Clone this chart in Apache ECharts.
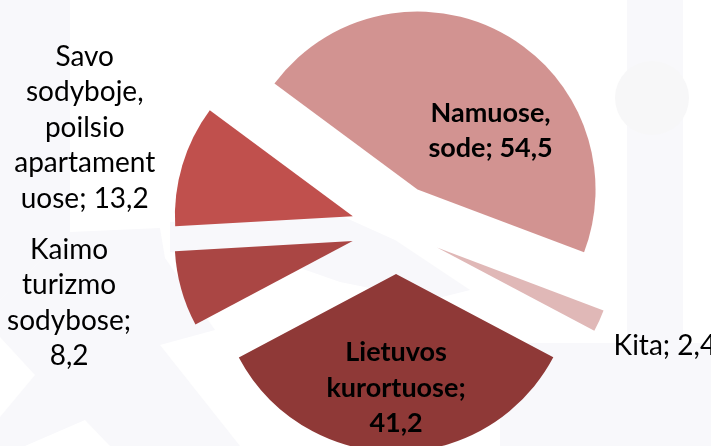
<!DOCTYPE html>
<html>
<head>
<meta charset="utf-8">
<script src="https://cdn.jsdelivr.net/npm/echarts@6/dist/echarts.min.js"></script>
<style>
  html, body { margin: 0; padding: 0; background: #ffffff; }
  #chart { width: 711px; height: 446px; }
</style>
</head>
<body>
<div id="chart"></div>
<script>
// Where people spent their holidays (multiple answers, %)
const categories = [
  'Namuose, sode',
  'Kita',
  'Lietuvos kurortuose',
  'Kaimo turizmo sodybose',
  'Savo sodyboje, poilsio apartamentuose'
];
const values = [54.5, 2.4, 41.2, 8.2, 13.2];
// category text as wrapped in the data labels
const labelNames = [
  'Namuose,\nsode',
  'Kita',
  'Lietuvos\nkurortuose;\n',
  'Kaimo\nturizmo\nsodybose;\n',
  'Savo\nsodyboje,\npoilsio\napartament\nuose'
];
const colors = ['#d29391', '#e0b8b7', '#8f3937', '#aa4644', '#c0504d'];

// label styling / shift from the default inside position, per slice
const labelStyles = [
  { bold: true,  size: 27, dx: 29,   dy: 22 },
  { bold: false, size: 28, dx: 144,  dy: 61 },
  { bold: true,  size: 27, dx: 0,    dy: 22 },
  { bold: false, size: 28, dx: -195, dy: 37 },
  { bold: false, size: 28, dx: -180, dy: -62 }
];

const fmt = v => String(v).replace('.', ',');

const data = categories.map((name, i) => {
  const ls = labelStyles[i];
  const sep = labelNames[i].endsWith('\n') ? '' : '; ';
  return {
    name,
    value: values[i],
    selected: true,
    itemStyle: { color: colors[i] },
    label: {
      formatter: labelNames[i] + sep + fmt(values[i]),
      fontWeight: ls.bold ? 'bold' : 'normal',
      fontSize: ls.size
    }
  };
});

const chart = echarts.init(document.getElementById('chart'), null, { renderer: 'canvas' });

const faint = '#f8f8fb';
chart.setOption({
  animation: false,
  backgroundColor: '#ffffff',
  graphic: [
    // faint backdrop pattern
    { type: 'polygon', z: -10, silent: true, shape: { points: [[0,0],[70,0],[70,232],[0,300]] }, style: { fill: faint } },
    { type: 'polygon', z: -10, silent: true, shape: { points: [[0,300],[70,232],[160,228],[165,258],[215,330],[160,345],[240,446],[0,446]] }, style: { fill: faint } },
    { type: 'polygon', z: -9, silent: true, shape: { points: [[0,337],[35,375],[0,417]] }, style: { fill: '#ffffff' } },
    { type: 'polygon', z: -9, silent: true, shape: { points: [[25,446],[85,420],[110,446]] }, style: { fill: '#ffffff' } },
    { type: 'polygon', z: -10, silent: true, shape: { points: [[170,222],[335,213],[395,240],[470,290],[430,300],[340,282],[300,268],[170,252]] }, style: { fill: faint } },
    { type: 'rect', z: -10, silent: true, shape: { x: 627, y: 0, width: 56, height: 343 }, style: { fill: faint } },
    { type: 'circle', z: -10, silent: true, shape: { cx: 652, cy: 98, r: 37 }, style: { fill: '#f7f7f8' } },
    { type: 'rect', z: -10, silent: true, shape: { x: 500, y: 343, width: 211, height: 103 }, style: { fill: faint } }
  ],
  series: [{
    type: 'pie',
    center: [396, 229],
    radius: 178,
    startAngle: 143.5,
    clockwise: true,
    selectedMode: 'multiple',
    selectedOffset: 45,
    avoidLabelOverlap: false,
    label: {
      show: true,
      position: 'inside',
      color: '#000000',
      fontFamily: 'Lato',
      fontSize: 27,
      lineHeight: 35.5
    },
    labelLine: { show: false },
    labelLayout: params => {
      const ls = labelStyles[params.dataIndex];
      return { dx: ls.dx, dy: ls.dy };
    },
    emphasis: { disabled: true },
    itemStyle: { borderWidth: 0 },
    data
  }]
});
</script>
</body>
</html>
